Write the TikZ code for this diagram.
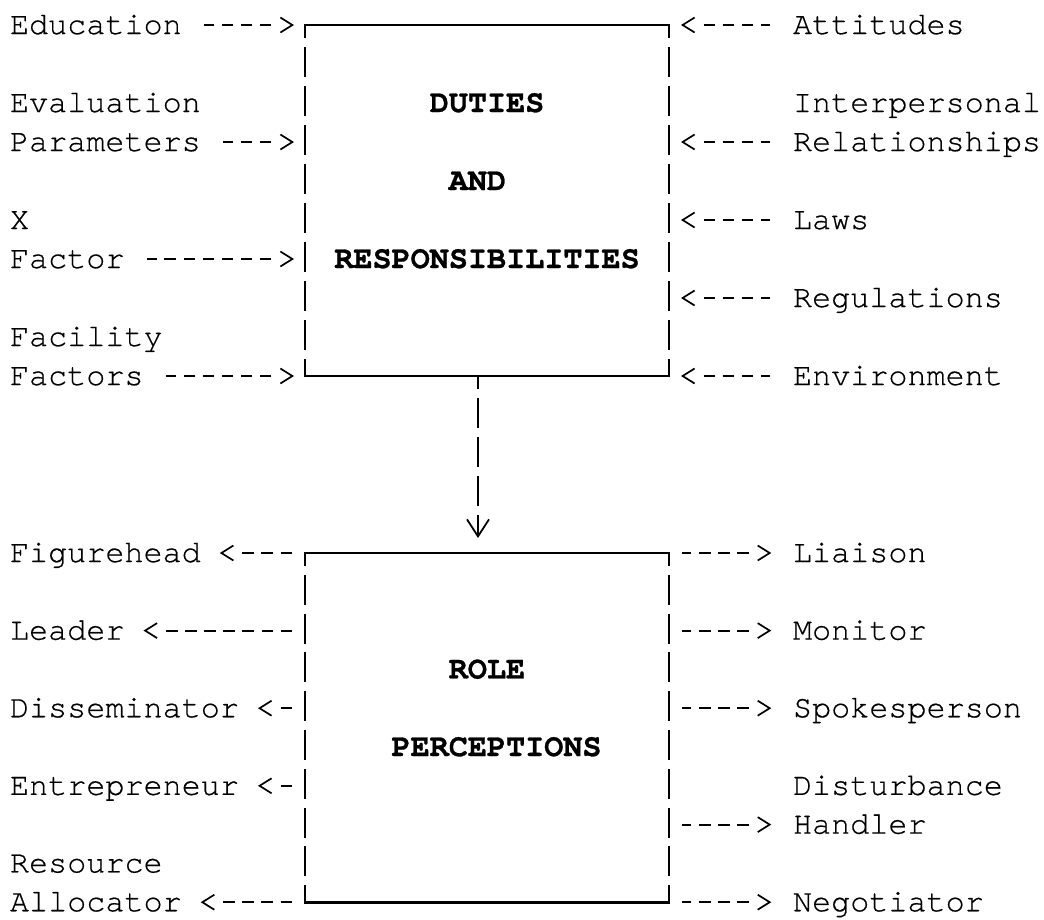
\documentclass[tikz,border=0pt]{standalone}
\usepackage{fontspec}
\newfontfamily\cur[FakeBold=0.5]{TeX Gyre Cursor}
\newfontfamily\curb[FakeBold=0.9]{TeX Gyre Cursor Bold}
\usetikzlibrary{arrows.meta}
\begin{document}
\begin{tikzpicture}[x=1pt,y=-1pt,
  lab/.style={font=\cur\fontsize{31.8pt}{38pt}\selectfont, inner sep=0pt, outer sep=0pt, anchor=west, text height=18.1pt, text depth=0pt},
  ttl/.style={lab, font=\curb\fontsize{31.8pt}{38pt}\selectfont},
  boxn/.style={draw=none, inner sep=0pt, outer sep=0pt},
  hline/.style={line width=2.6pt, line cap=rect},
  vlineA/.style={line width=2.5pt, dash pattern=on 30pt off 9pt, dash phase=17pt},
  vlineB/.style={line width=2.5pt, dash pattern=on 30pt off 8.8pt, dash phase=17pt},
  conn/.style={line width=2pt,
    dash pattern=on 0pt off 20.1pt on 11.5pt off 7.6pt on 11.5pt off 7.6pt on 11.5pt off 7.6pt on 11.5pt off 7.6pt on 11.5pt off 7.6pt on 11.5pt off 7.6pt on 11.5pt off 7.6pt on 11.5pt off 7.6pt,
    {Straight Barb[length=12pt,width=15pt,line width=1.7pt]}-},
  down/.style={line width=2.2pt, dash pattern=on 30pt off 9pt, dash phase=17pt,
    -{Straight Barb[length=17pt,width=22pt,line width=1.8pt]}},
]
\useasboundingbox (0,0) rectangle (1044,919);

% ---------- top box ----------
\node[boxn, minimum width=364pt, minimum height=351pt] (duties) at (487,200.5) {};
\draw[hline] (duties.north west) -- (duties.north east);
\draw[hline] (duties.south west) -- (duties.south east);
\draw[vlineA] (duties.north west) -- (duties.south west);
\draw[vlineA] (duties.north east) -- (duties.south east);
\node[ttl] (t1) at (429.8,103) {DUTIES};
\node[ttl] (t2) at (448.8,181) {AND};
\node[ttl] (t3) at (334.4,259) {RESPONSIBILITIES};

% left inputs
\node[lab] (edu) at (10,25) {Education};
\node[lab] (evalA) at (10,103) {Evaluation};
\node[lab] (evalB) at (10,142) {Parameters};
\node[lab] (xA) at (10,220) {X};
\node[lab] (xB) at (10,259) {Factor};
\node[lab] (facA) at (10,337) {Facility};
\node[lab] (facB) at (10,376) {Factors};
\foreach \n in {edu,evalB,xB,facB}
  \draw[conn, shorten <=11pt, shorten >=22.6pt] (duties.west |- \n) -- (\n);

% right inputs
\node[lab] (att) at (793,25) {Attitudes};
\node[lab] (intA) at (793,103) {Interpersonal};
\node[lab] (intB) at (793,142) {Relationships};
\node[lab] (laws) at (793,220) {Laws};
\node[lab] (regs) at (793,298) {Regulations};
\node[lab] (env) at (793,376) {Environment};
\foreach \n in {att,intB,laws,regs,env}
  \draw[conn, shorten <=12pt, shorten >=22.7pt] (duties.east |- \n) -- (\n);

% ---------- bottom box ----------
\node[boxn, minimum width=364pt, minimum height=349.2pt] (roles) at (487,727.6) {};
\draw[hline] (roles.north west) -- (roles.north east);
\draw[hline] (roles.south west) -- (roles.south east);
\draw[vlineB] (roles.north west) -- (roles.south west);
\draw[vlineB] (roles.north east) -- (roles.south east);
\node[ttl] (t4) at (448.8,669.4) {ROLE};
\node[ttl] (t5) at (391.6,747) {PERCEPTIONS};

\draw[down, shorten >=15pt] ([xshift=-9pt]duties.south) -- ([xshift=-9pt]roles.north);

% left outputs
\node[lab] (fig) at (10,553) {Figurehead};
\node[lab] (lead) at (10,630.6) {Leader};
\node[lab] (diss) at (10,708.2) {Disseminator};
\node[lab] (entr) at (10,785.8) {Entrepreneur};
\node[lab] (resA) at (10,863.4) {Resource};
\node[lab] (resB) at (10,902.2) {Allocator};
\foreach \n in {fig,lead,diss,entr,resB}
  \draw[conn, shorten <=19pt, shorten >=12.4pt] (\n) -- (roles.west |- \n);

% right outputs
\node[lab] (liai) at (793,553) {Liaison};
\node[lab] (mon) at (793,630.6) {Monitor};
\node[lab] (spk) at (793,708.2) {Spokesperson};
\node[lab] (distA) at (793,785.8) {Disturbance};
\node[lab] (distB) at (793,824.6) {Handler};
\node[lab] (neg) at (793,902.2) {Negotiator};
\foreach \n in {liai,mon,spk,distB,neg}
  \draw[conn, shorten <=21.7pt, shorten >=12.9pt] (\n) -- (roles.east |- \n);
\end{tikzpicture}
\end{document}
